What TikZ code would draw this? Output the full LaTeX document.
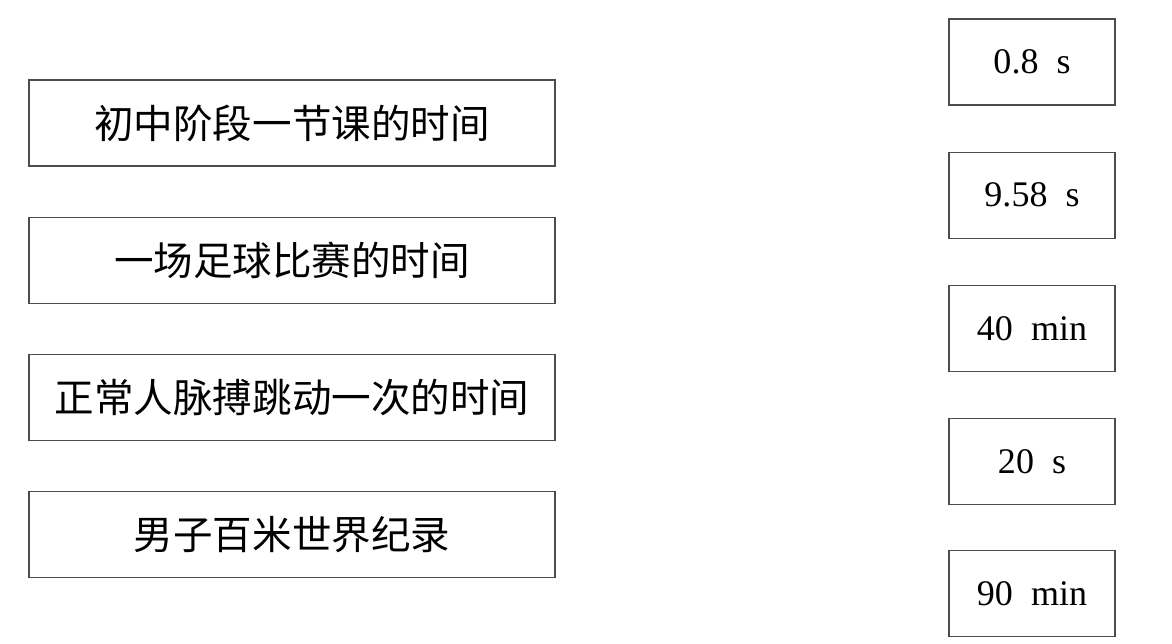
\documentclass[tikz,border=0pt]{standalone}
\usepackage{fontspec}
\setmainfont{Liberation Serif}
\newfontfamily\cjk{Noto Sans CJK SC}
\usepackage{tikz}
\usetikzlibrary{positioning}

\begin{document}
\begin{tikzpicture}[
    x=0.02cm, y=-0.02cm,
    event/.style={draw=black!70, line width=0.7pt, minimum width=10.52cm, minimum height=1.72cm,
                  inner sep=0pt, font=\cjk\fontsize{22.5}{25}\selectfont},
    span/.style={draw=black!70, line width=0.7pt, minimum width=3.32cm, minimum height=1.72cm,
                 inner sep=0pt, font=\fontsize{20.5}{24}\selectfont}
]
    \useasboundingbox (0,0) rectangle (1172,643);

    % Events
    \node[event] (E1) at (292,123) {初中阶段一节课的时间};
    \node[event, below=1.0cm of E1] (E2) {一场足球比赛的时间};
    \node[event, below=1.0cm of E2] (E3) {正常人脉搏跳动一次的时间};
    \node[event, below=1.0cm of E3] (E4) {男子百米世界纪录};

    % Durations
    \node[span] (D1) at (1032,62) {0.8\ \ s};
    \node[span, below=0.92cm of D1] (D2) {9.58\ \ s};
    \node[span, below=0.92cm of D2] (D3) {40\ \ min};
    \node[span, below=0.92cm of D3] (D4) {20\ \ s};
    \node[span, below=0.90cm of D4] (D5) {90\ \ min};
\end{tikzpicture}
\end{document}
